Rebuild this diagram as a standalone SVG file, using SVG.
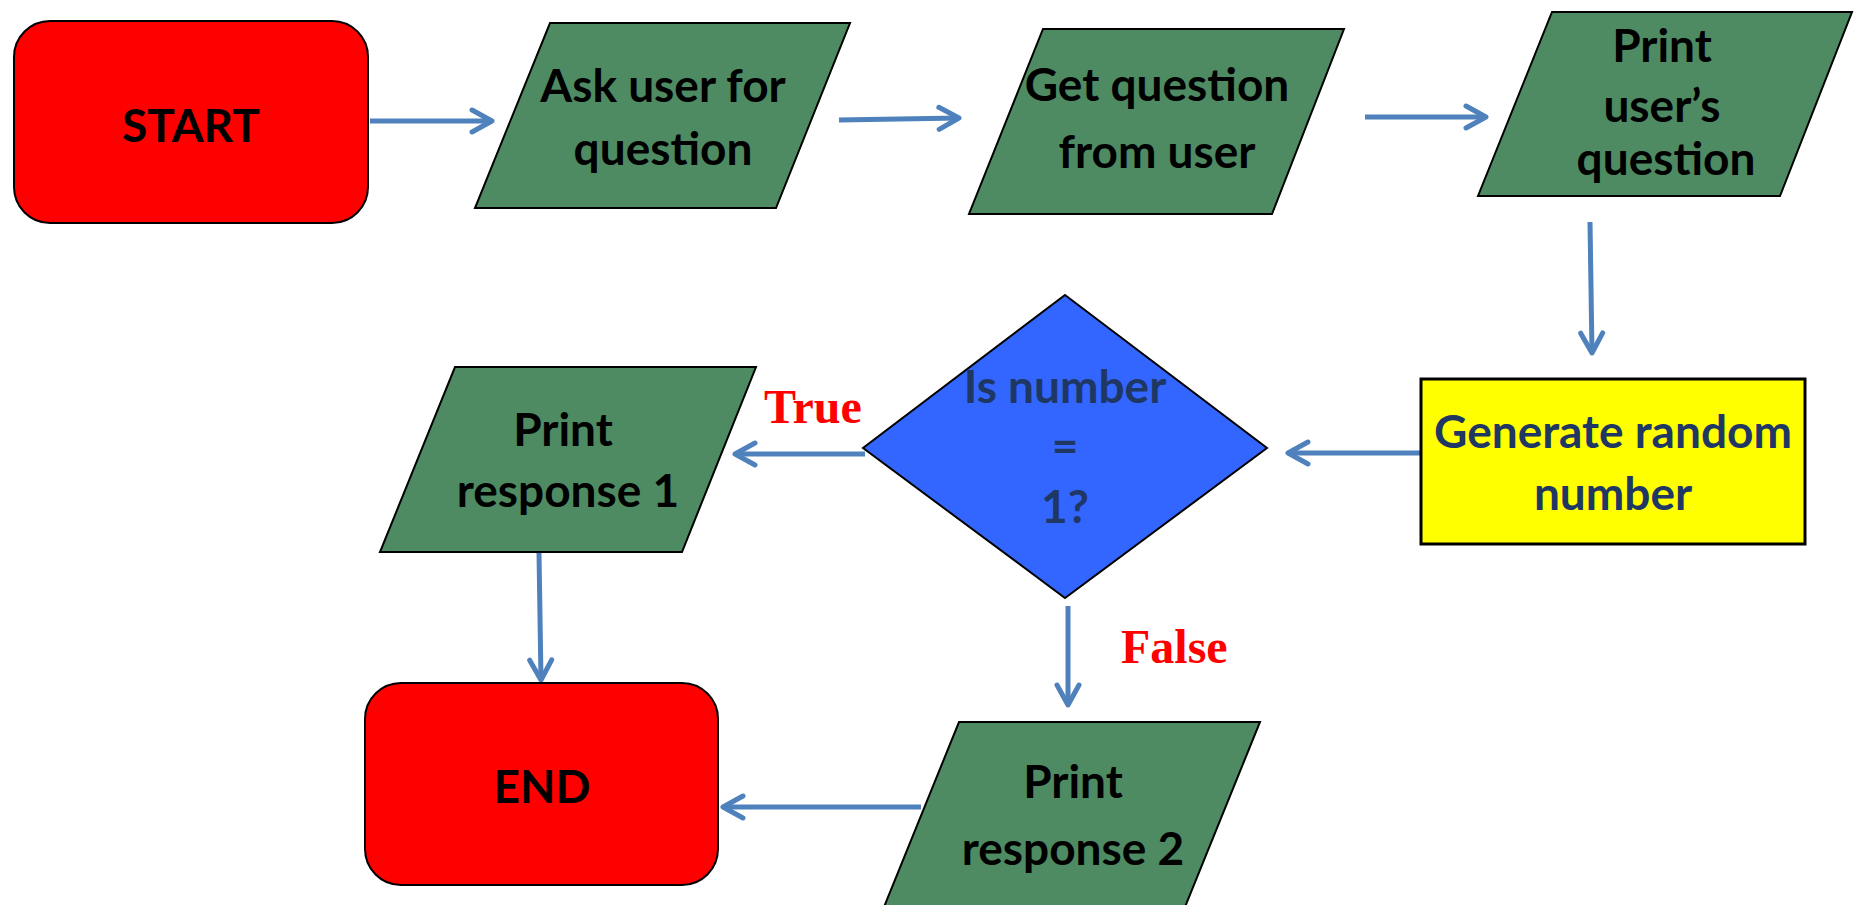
<svg xmlns="http://www.w3.org/2000/svg" width="1856" height="905" viewBox="0 0 1856 905">
<style>
.term{fill:#FF0000;stroke:#000;stroke-width:2}
.io{fill:#4E8B63;stroke:#000;stroke-width:2}
.proc{fill:#FFFF00;stroke:#000;stroke-width:3}
.dec{fill:#3366FF;stroke:#000;stroke-width:2}
.t{font-family:Lato,"Open Sans",sans-serif;font-weight:bold;font-size:46px;text-anchor:middle;fill:#000}
.navy{fill:#1F3763}
.lbl{font-family:"Liberation Serif","Times New Roman",serif;font-weight:bold;font-size:48px;fill:#FF0000}
.conn{stroke:#4F81BD;stroke-width:5;fill:none;marker-end:url(#ah)}
</style>
<defs>
<marker id="ah" markerUnits="userSpaceOnUse" viewBox="-26 -15 30 30" refX="0" refY="0" markerWidth="30" markerHeight="30" orient="auto">
<path d="M-20,-11 L0,0 L-20,11" fill="none" stroke="#4F81BD" stroke-width="5" stroke-linecap="round" stroke-linejoin="round"/>
</marker>
</defs>
<rect width="1856" height="905" fill="#fff"/>
<g id="connectors">
<line class="conn" x1="370" y1="121" x2="492" y2="121"/>
<line class="conn" x1="839" y1="120" x2="959" y2="118"/>
<line class="conn" x1="1365" y1="117" x2="1486" y2="117"/>
<line class="conn" x1="1590" y1="222" x2="1592" y2="353"/>
<line class="conn" x1="1421" y1="453" x2="1288" y2="453"/>
<line class="conn" x1="865" y1="454" x2="735" y2="454"/>
<line class="conn" x1="1068" y1="606" x2="1068" y2="705"/>
<line class="conn" x1="539" y1="553" x2="541" y2="680"/>
<line class="conn" x1="921" y1="807" x2="723" y2="807"/>
</g>
<g id="start">
<rect class="term" x="14" y="21" width="354" height="202" rx="36"/>
<text class="t" x="191" y="142">START</text>
</g>
<g id="ask">
<polygon class="io" points="550,23 850,23 776,208 475,208"/>
<text class="t" x="663" y="102">Ask user for</text>
<text class="t" x="663" y="165">question</text>
</g>
<g id="get">
<polygon class="io" points="1043,29 1344,29 1272,214 969,214"/>
<text class="t" x="1157" y="101">Get question</text>
<text class="t" x="1157" y="168">from user</text>
</g>
<g id="printq">
<polygon class="io" points="1552,12 1852,12 1780,196 1478,196"/>
<text class="t" x="1662" y="62">Print</text>
<text class="t" x="1662" y="122">user’s</text>
<text class="t" x="1666" y="175">question</text>
</g>
<g id="generate">
<rect class="proc" x="1421" y="379" width="384" height="165"/>
<text class="t navy" x="1613" y="448">Generate random</text>
<text class="t navy" x="1613" y="510">number</text>
</g>
<g id="decision">
<polygon class="dec" points="1065,295 1267,448 1065,598 863,448"/>
<text class="t navy" x="1065" y="403">Is number</text>
<text class="t navy" x="1065" y="462">=</text>
<text class="t navy" x="1065" y="523">1?</text>
</g>
<g id="resp1">
<polygon class="io" points="455,367 756,367 682,552 380,552"/>
<text class="t" x="563" y="446">Print</text>
<text class="t" x="568" y="507">response 1</text>
</g>
<g id="resp2">
<polygon class="io" points="959,722 1260,722 1185,907 884,907"/>
<text class="t" x="1073" y="798">Print</text>
<text class="t" x="1073" y="865">response 2</text>
</g>
<g id="end">
<rect class="term" x="365" y="683" width="353" height="202" rx="36"/>
<text class="t" x="542" y="803">END</text>
</g>
<g id="labels">
<text class="lbl" x="764" y="423">True</text>
<text class="lbl" x="1121" y="663">False</text>
</g>
</svg>
